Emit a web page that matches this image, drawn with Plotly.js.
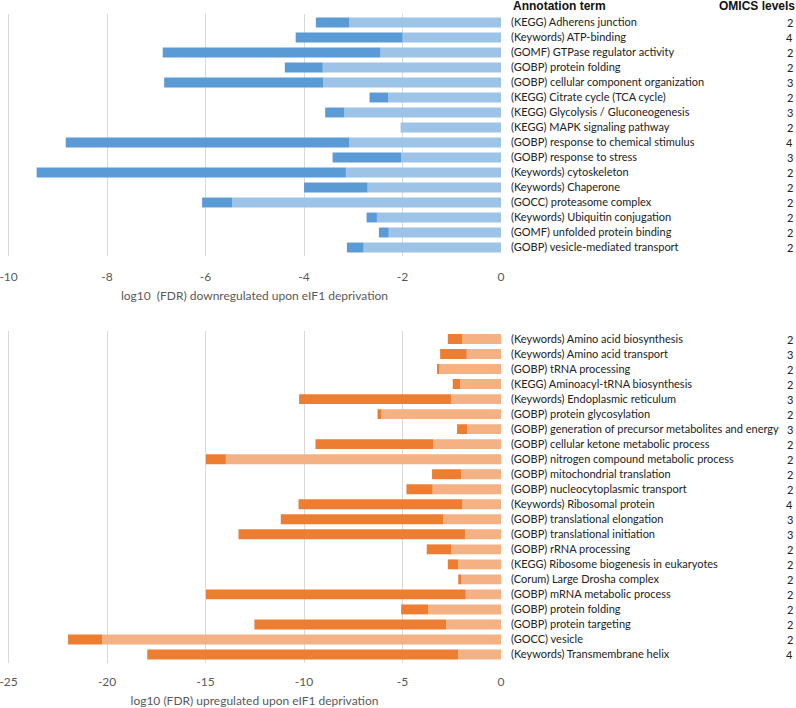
<!DOCTYPE html>
<html>
<head>
<meta charset="utf-8">
<script src="https://cdn.plot.ly/plotly-3.0.1.min.js"></script>
<style>html,body{margin:0;padding:0;background:#fff;}#chart{width:796px;height:708px;}</style>
</head>
<body>
<div id="chart"></div>
<script>
// ---- Top panel: downregulated upon eIF1 deprivation ----
const downTerms = [
  "(KEGG) Adherens junction",
  "(Keywords) ATP-binding",
  "(GOMF) GTPase regulator activity",
  "(GOBP) protein folding",
  "(GOBP) cellular component organization",
  "(KEGG) Citrate cycle (TCA cycle)",
  "(KEGG) Glycolysis / Gluconeogenesis",
  "(KEGG) MAPK signaling pathway",
  "(GOBP) response to chemical stimulus",
  "(GOBP) response to stress",
  "(Keywords) cytoskeleton",
  "(Keywords) Chaperone",
  "(GOCC) proteasome complex",
  "(Keywords) Ubiquitin conjugation",
  "(GOMF) unfolded protein binding",
  "(GOBP) vesicle-mediated transport"
];
const downOmics = [2, 4, 2, 2, 3, 2, 3, 2, 4, 3, 2, 2, 2, 2, 2, 2];
// weakest (light bar) and strongest (end of dark bar) log10 FDR
const downWeak   = [-3.08, -2.00, -2.45, -3.62, -3.61, -2.29, -3.18, -2.04, -3.08, -2.03, -3.15, -2.71, -5.46, -2.52, -2.28, -2.79];
const downStrong = [-3.76, -4.17, -6.87, -4.39, -6.84, -2.67, -3.57, -2.04, -8.84, -3.42, -9.43, -4.00, -6.07, -2.73, -2.48, -3.13];
const downTickVals = [-10, -8, -6, -4, -2, 0];
const downTickText = ["-10", "-8", "-6", "-4", "-2", "0"];

// ---- Bottom panel: upregulated upon eIF1 deprivation ----
const upTerms = [
  "(Keywords) Amino acid biosynthesis",
  "(Keywords) Amino acid transport",
  "(GOBP) tRNA processing",
  "(KEGG) Aminoacyl-tRNA biosynthesis",
  "(Keywords) Endoplasmic reticulum",
  "(GOBP) protein glycosylation",
  "(GOBP) generation of precursor metabolites and energy",
  "(GOBP) cellular ketone metabolic process",
  "(GOBP) nitrogen compound metabolic process",
  "(GOBP) mitochondrial translation",
  "(GOBP) nucleocytoplasmic transport",
  "(Keywords) Ribosomal protein",
  "(GOBP) translational elongation",
  "(GOBP) translational initiation",
  "(GOBP) rRNA processing",
  "(KEGG) Ribosome biogenesis in eukaryotes",
  "(Corum) Large Drosha complex",
  "(GOBP) mRNA metabolic process",
  "(GOBP) protein folding",
  "(GOBP) protein targeting",
  "(GOCC) vesicle",
  "(Keywords) Transmembrane helix"
];
const upOmics = [2, 3, 2, 2, 3, 2, 3, 2, 2, 2, 2, 4, 3, 3, 2, 2, 2, 2, 2, 2, 2, 4];
const upWeak   = [-1.96, -1.74, -3.13, -2.08, -2.54, -6.09, -1.71, -3.45, -13.97, -2.03, -3.47, -1.96, -2.93, -1.83, -2.52, -2.17, -2.03, -1.79, -3.70, -2.79, -20.24, -2.18];
const upStrong = [-2.70, -3.09, -3.25, -2.45, -10.25, -6.27, -2.23, -9.42, -14.98, -3.50, -4.80, -10.28, -11.18, -13.33, -3.77, -2.70, -2.17, -14.98, -5.07, -12.52, -21.98, -17.96];
const upTickVals = [-25, -20, -15, -10, -5, 0];
const upTickText = ["-25", "-20", "-15", "-10", "-5", "0"];

const blueLight = "#9dc3e6", blueDark = "#5b9bd5";
const orangeLight = "#f4b183", orangeDark = "#ed7d31";

const diff = (a, b) => a.map((v, i) => v - b[i]);

const traces = [
  {type: "bar", orientation: "h", y: downTerms, x: downWeak, base: 0,
   marker: {color: blueLight}, xaxis: "x", yaxis: "y", width: 0.66, hoverinfo: "x+y"},
  {type: "bar", orientation: "h", y: downTerms, x: diff(downStrong, downWeak), base: downWeak,
   marker: {color: blueDark}, xaxis: "x", yaxis: "y", width: 0.66, hoverinfo: "x+y"},
  {type: "bar", orientation: "h", y: upTerms, x: upWeak, base: 0,
   marker: {color: orangeLight}, xaxis: "x2", yaxis: "y2", width: 0.66, hoverinfo: "x+y"},
  {type: "bar", orientation: "h", y: upTerms, x: diff(upStrong, upWeak), base: upWeak,
   marker: {color: orangeDark}, xaxis: "x2", yaxis: "y2", width: 0.66, hoverinfo: "x+y"}
];

const labelFont = {family: "Lato, 'Open Sans', sans-serif", size: 11, color: "#222"};
const tickFont = {family: "Lato, 'Open Sans', sans-serif", size: 12, color: "#595959"};
const H = 708;
const L = 6.7, R = 502;               // plot area pixel edges
const PW = R - L;
const topDomain = [1 - 256 / H, 1 - 14 / H];
const botDomain = [1 - 663 / H, 1 - 330.5 / H];
const px = (p) => (p - L) / PW;        // pixel -> paper x

const annotations = [];
downOmics.forEach((v, i) => annotations.push({
  xref: "paper", yref: "y", x: px(795), y: downTerms[i], text: String(v),
  xanchor: "right", yanchor: "middle", showarrow: false, font: labelFont
}));
upOmics.forEach((v, i) => annotations.push({
  xref: "paper", yref: "y2", x: px(795), y: upTerms[i], text: String(v),
  xanchor: "right", yanchor: "middle", showarrow: false, font: labelFont
}));
annotations.push({xref: "paper", yref: "paper", x: px(511), y: 1 - 6 / H,
  text: "<b>Annotation term</b>", xanchor: "left", yanchor: "middle", showarrow: false,
  font: {family: "'Liberation Sans', Arial, sans-serif", size: 12, color: "#111"}});
annotations.push({xref: "paper", yref: "paper", x: px(797), y: 1 - 6 / H,
  text: "<b>OMICS levels</b>", xanchor: "right", yanchor: "middle", showarrow: false,
  font: {family: "'Liberation Sans', Arial, sans-serif", size: 12, color: "#111"}});

const layout = {
  width: 796, height: 708,
  margin: {l: L, r: 796 - R, t: 0, b: 0},
  paper_bgcolor: "#fff", plot_bgcolor: "#fff",
  barmode: "overlay",
  showlegend: false,
  xaxis: {domain: [0, 1], anchor: "y", range: [-10.032, 0.02], tickvals: downTickVals, ticktext: downTickText,
    showgrid: true, gridcolor: "#d9d9d9", gridwidth: 1, zeroline: false,
    showline: false, ticks: "", tickfont: tickFont, ticklabelstandoff: 12, ticklabeloverflow: "allow",
    fixedrange: true,
    title: {text: "log10  (FDR) downregulated upon eIF1 deprivation", font: tickFont, standoff: 8}},
  yaxis: {domain: topDomain, anchor: "x", type: "category", autorange: "reversed", side: "right",
    showgrid: false, zeroline: false, showline: false, ticks: "", tickfont: labelFont,
    ticklabelstandoff: 8, automargin: false},
  xaxis2: {domain: [0, 1], anchor: "y2", range: [-25.081, 0.051], tickvals: upTickVals, ticktext: upTickText,
    showgrid: true, gridcolor: "#d9d9d9", gridwidth: 1, zeroline: false,
    showline: false, ticks: "", tickfont: tickFont, ticklabelstandoff: 10, ticklabeloverflow: "allow",
    fixedrange: true,
    title: {text: "log10 (FDR) upregulated upon eIF1 deprivation", font: tickFont, standoff: 10}},
  yaxis2: {domain: botDomain, anchor: "x2", type: "category", autorange: "reversed", side: "right",
    showgrid: false, zeroline: false, showline: false, ticks: "", tickfont: labelFont,
    ticklabelstandoff: 8, automargin: false},
  annotations: annotations
};

Plotly.newPlot("chart", traces, layout, {displayModeBar: false, staticPlot: true});
</script>
</body>
</html>
